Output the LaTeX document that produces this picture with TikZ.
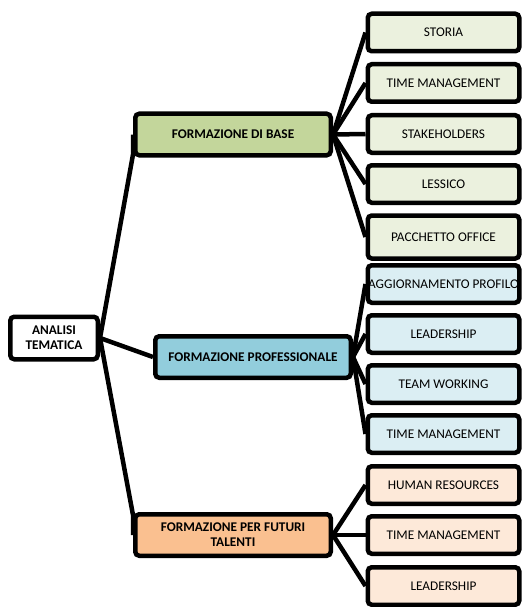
\documentclass[tikz,border=0pt]{standalone}
\usepackage{fontspec}
\setmainfont{Carlito}
\usetikzlibrary{backgrounds}
\definecolor{baseverde}{HTML}{C3D69B}
\definecolor{baseverdechiaro}{HTML}{EBF1DE}
\definecolor{profblu}{HTML}{92CDDC}
\definecolor{profbluchiaro}{HTML}{DBEEF3}
\definecolor{talarancio}{HTML}{FAC090}
\definecolor{talaranciochiaro}{HTML}{FDE9D9}
\tikzset{
  box/.style={draw,line width=4.5pt,rounded corners=4pt,inner sep=0pt,align=center,
    font=\fontsize{13.3}{15}\selectfont},
  rootbox/.style={box,fill=white,minimum width=87.5pt,minimum height=42.5pt,
    font=\fontsize{13.3}{15}\selectfont\bfseries},
  areabox/.style={box,minimum width=195.5pt,minimum height=41.5pt,
    font=\fontsize{13.3}{15}\selectfont\bfseries},
  topicbox/.style={box,minimum width=151.5pt,minimum height=37.5pt},
  link/.style={line width=4.5pt,line join=round}
}
\begin{document}
\begin{tikzpicture}[x=1pt,y=-1pt]
\useasboundingbox (0,0) rectangle (523,607);
\node[rootbox] (analisi) at (54,338) {ANALISI\\TEMATICA};
\node[areabox,fill=baseverde] (base) at (233,134.5) {FORMAZIONE DI BASE};
\node[areabox,fill=profblu] (prof) at (253,357) {FORMAZIONE PROFESSIONALE};
\node[areabox,fill=talarancio] (talenti) at (233,535) {FORMAZIONE PER FUTURI\\TALENTI};

\node[topicbox,fill=baseverdechiaro] (storia) at (443.5,32.5) {STORIA};
\node[topicbox,fill=baseverdechiaro] (timebase) at (443.5,83) {TIME MANAGEMENT};
\node[topicbox,fill=baseverdechiaro] (stakeholders) at (443.5,134) {STAKEHOLDERS};
\node[topicbox,fill=baseverdechiaro] (lessico) at (443.5,184) {LESSICO};
\node[topicbox,fill=baseverdechiaro,minimum height=43pt] (office) at (443.5,237) {PACCHETTO OFFICE};

\node[topicbox,fill=profbluchiaro] (profilo) at (443.5,284) {AGGIORNAMENTO PROFILO};
\node[topicbox,fill=profbluchiaro] (leadprof) at (443.5,334) {LEADERSHIP};
\node[topicbox,fill=profbluchiaro] (team) at (443.5,384) {TEAM WORKING};
\node[topicbox,fill=profbluchiaro] (timeprof) at (443.5,434) {TIME MANAGEMENT};

\node[topicbox,fill=talaranciochiaro] (human) at (443.5,485) {HUMAN RESOURCES};
\node[topicbox,fill=talaranciochiaro] (timetal) at (443.5,535) {TIME MANAGEMENT};
\node[topicbox,fill=talaranciochiaro] (leadtal) at (443.5,586) {LEADERSHIP};

\begin{pgfonlayer}{background}
\draw[link] (analisi.east) -- ([yshift=3pt]base.south west) -- (base.west);
\draw[link] (analisi.east) -- (prof.west);
\draw[link] (analisi.east) -- ([yshift=-3pt]talenti.north west) -- (talenti.west);

\draw[link] (base.east) -- (storia.west);
\draw[link] (base.east) -- (timebase.west);
\draw[link] (base.east) -- (stakeholders.west);
\draw[link] (base.east) -- (lessico.west);
\draw[link] (base.east) -- (office.west);

\draw[link] (prof.east) -- (profilo.west);
\draw[link] (prof.east) -- (leadprof.west);
\draw[link] (prof.east) -- (team.west);
\draw[link] (prof.east) -- (timeprof.west);

\draw[link] (talenti.east) -- (human.west);
\draw[link] (talenti.east) -- (timetal.west);
\draw[link] (talenti.east) -- (leadtal.west);
\end{pgfonlayer}
\end{tikzpicture}
\end{document}
